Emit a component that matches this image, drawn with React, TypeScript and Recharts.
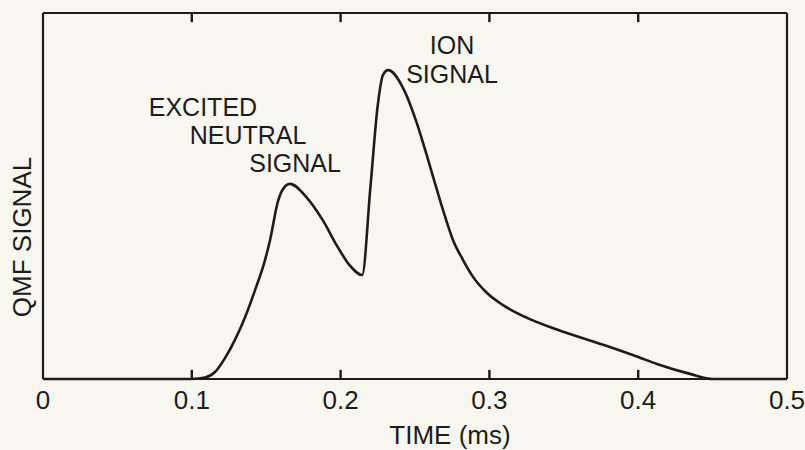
import { LineChart, Line, XAxis, YAxis, ReferenceDot, ReferenceLine } from 'recharts'

// time in ms, signal in arbitrary units (0..1 of the frame height)
const TIME = [0, 0.1, 0.1089, 0.1156, 0.1223, 0.129, 0.1358, 0.1425, 0.1492, 0.1526, 0.1579, 0.161, 0.166, 0.177, 0.188, 0.198, 0.206, 0.2145, 0.22, 0.225, 0.2285, 0.232, 0.242, 0.251, 0.258, 0.2648, 0.2688, 0.2755, 0.2823, 0.289, 0.2984, 0.3091, 0.3253, 0.3454, 0.379, 0.4, 0.4126, 0.4348, 0.4503, 0.5]
const SIGNAL = [0, 0, 0.004, 0.019, 0.057, 0.107, 0.169, 0.243, 0.325, 0.38, 0.485, 0.517, 0.533, 0.497, 0.434, 0.361, 0.311, 0.284, 0.522, 0.749, 0.831, 0.844, 0.795, 0.702, 0.61, 0.516, 0.462, 0.38, 0.325, 0.279, 0.235, 0.202, 0.167, 0.135, 0.09, 0.06, 0.041, 0.014, 0, 0]
const TICKS = [0, 0.1, 0.2, 0.3, 0.4, 0.5]
const TICK_LABELS = ['0', '0.1', '0.2', '0.3', '0.4', '0.5']
const INNER_TICKS = [0.1, 0.2, 0.3, 0.4]
const TICK_LEN = 0.025

const NOTES = [
  { text: 'EXCITED', t: 0.1075, v: 0.743 },
  { text: 'NEUTRAL', t: 0.1378, v: 0.667 },
  { text: 'SIGNAL', t: 0.1694, v: 0.59 },
  { text: 'ION', t: 0.2749, v: 0.913 },
  { text: 'SIGNAL', t: 0.2749, v: 0.833 },
]

const INK = '#1c1c1c'
const FONT = '"Liberation Sans", Arial, sans-serif'

const data = TIME.map((t, i) => ({ t, v: SIGNAL[i] }))

function BottomTick(props: any) {
  const { x, y, payload } = props
  const idx = TICKS.indexOf(payload.value)
  return (
    <text x={x} y={y + 21} textAnchor="middle" dominantBaseline="central" fontSize={26} fill={INK} fontFamily={FONT}>
      {TICK_LABELS[idx]}
    </text>
  )
}

export default function App() {
  return (
    <div style={{ position: 'absolute', left: 0, top: 0, width: 805, height: 450, background: '#f8f7ef', fontFamily: FONT }}>
      <LineChart width={805} height={450} data={data} margin={{ top: 12, right: 17, bottom: 70, left: 42 }}>
        <XAxis
          dataKey="t"
          type="number"
          domain={[0, 0.5]}
          ticks={TICKS}
          height={1}
          tickSize={0}
          tickMargin={0}
          tickLine={false}
          tick={<BottomTick />}
          axisLine={{ stroke: INK, strokeWidth: 2.2 }}
          label={{
            content: () => (
              <text x={450} y={435} textAnchor="middle" dominantBaseline="central" fontSize={26} fill={INK} fontFamily={FONT}>
                TIME (ms)
              </text>
            ),
          }}
        />
        <XAxis
          xAxisId="top"
          orientation="top"
          dataKey="t"
          type="number"
          domain={[0, 0.5]}
          ticks={TICKS}
          height={1}
          tick={false}
          tickLine={false}
          axisLine={{ stroke: INK, strokeWidth: 2.2 }}
        />
        <YAxis
          type="number"
          domain={[0, 1]}
          width={1}
          tick={false}
          tickLine={false}
          axisLine={{ stroke: INK, strokeWidth: 2.2 }}
          label={{
            content: () => (
              <text x={22} y={237} transform="rotate(-90 22 237)" textAnchor="middle" dominantBaseline="central" fontSize={26} fill={INK} fontFamily={FONT}>
                QMF SIGNAL
              </text>
            ),
          }}
        />
        <YAxis yAxisId="right" orientation="right" type="number" domain={[0, 1]} width={1} tick={false} tickLine={false} axisLine={{ stroke: INK, strokeWidth: 2.2 }} />
        {INNER_TICKS.map(t => (
          <ReferenceLine key={'b' + t} segment={[{ x: t, y: 0 }, { x: t, y: TICK_LEN }]} stroke={INK} strokeWidth={2.4} ifOverflow="visible" />
        ))}
        {INNER_TICKS.map(t => (
          <ReferenceLine key={'t' + t} segment={[{ x: t, y: 1 }, { x: t, y: 1 - TICK_LEN }]} stroke={INK} strokeWidth={2.4} ifOverflow="visible" />
        ))}
        <Line type="monotone" dataKey="v" stroke={INK} strokeWidth={2.6} dot={false} isAnimationActive={false} />
        {NOTES.map((n, i) => (
          <ReferenceDot
            key={i}
            x={n.t}
            y={n.v}
            r={0}
            stroke="none"
            fill="none"
            label={{ value: n.text, position: 'center', fontSize: 25, fill: INK, fontFamily: FONT }}
          />
        ))}
      </LineChart>
    </div>
  )
}
